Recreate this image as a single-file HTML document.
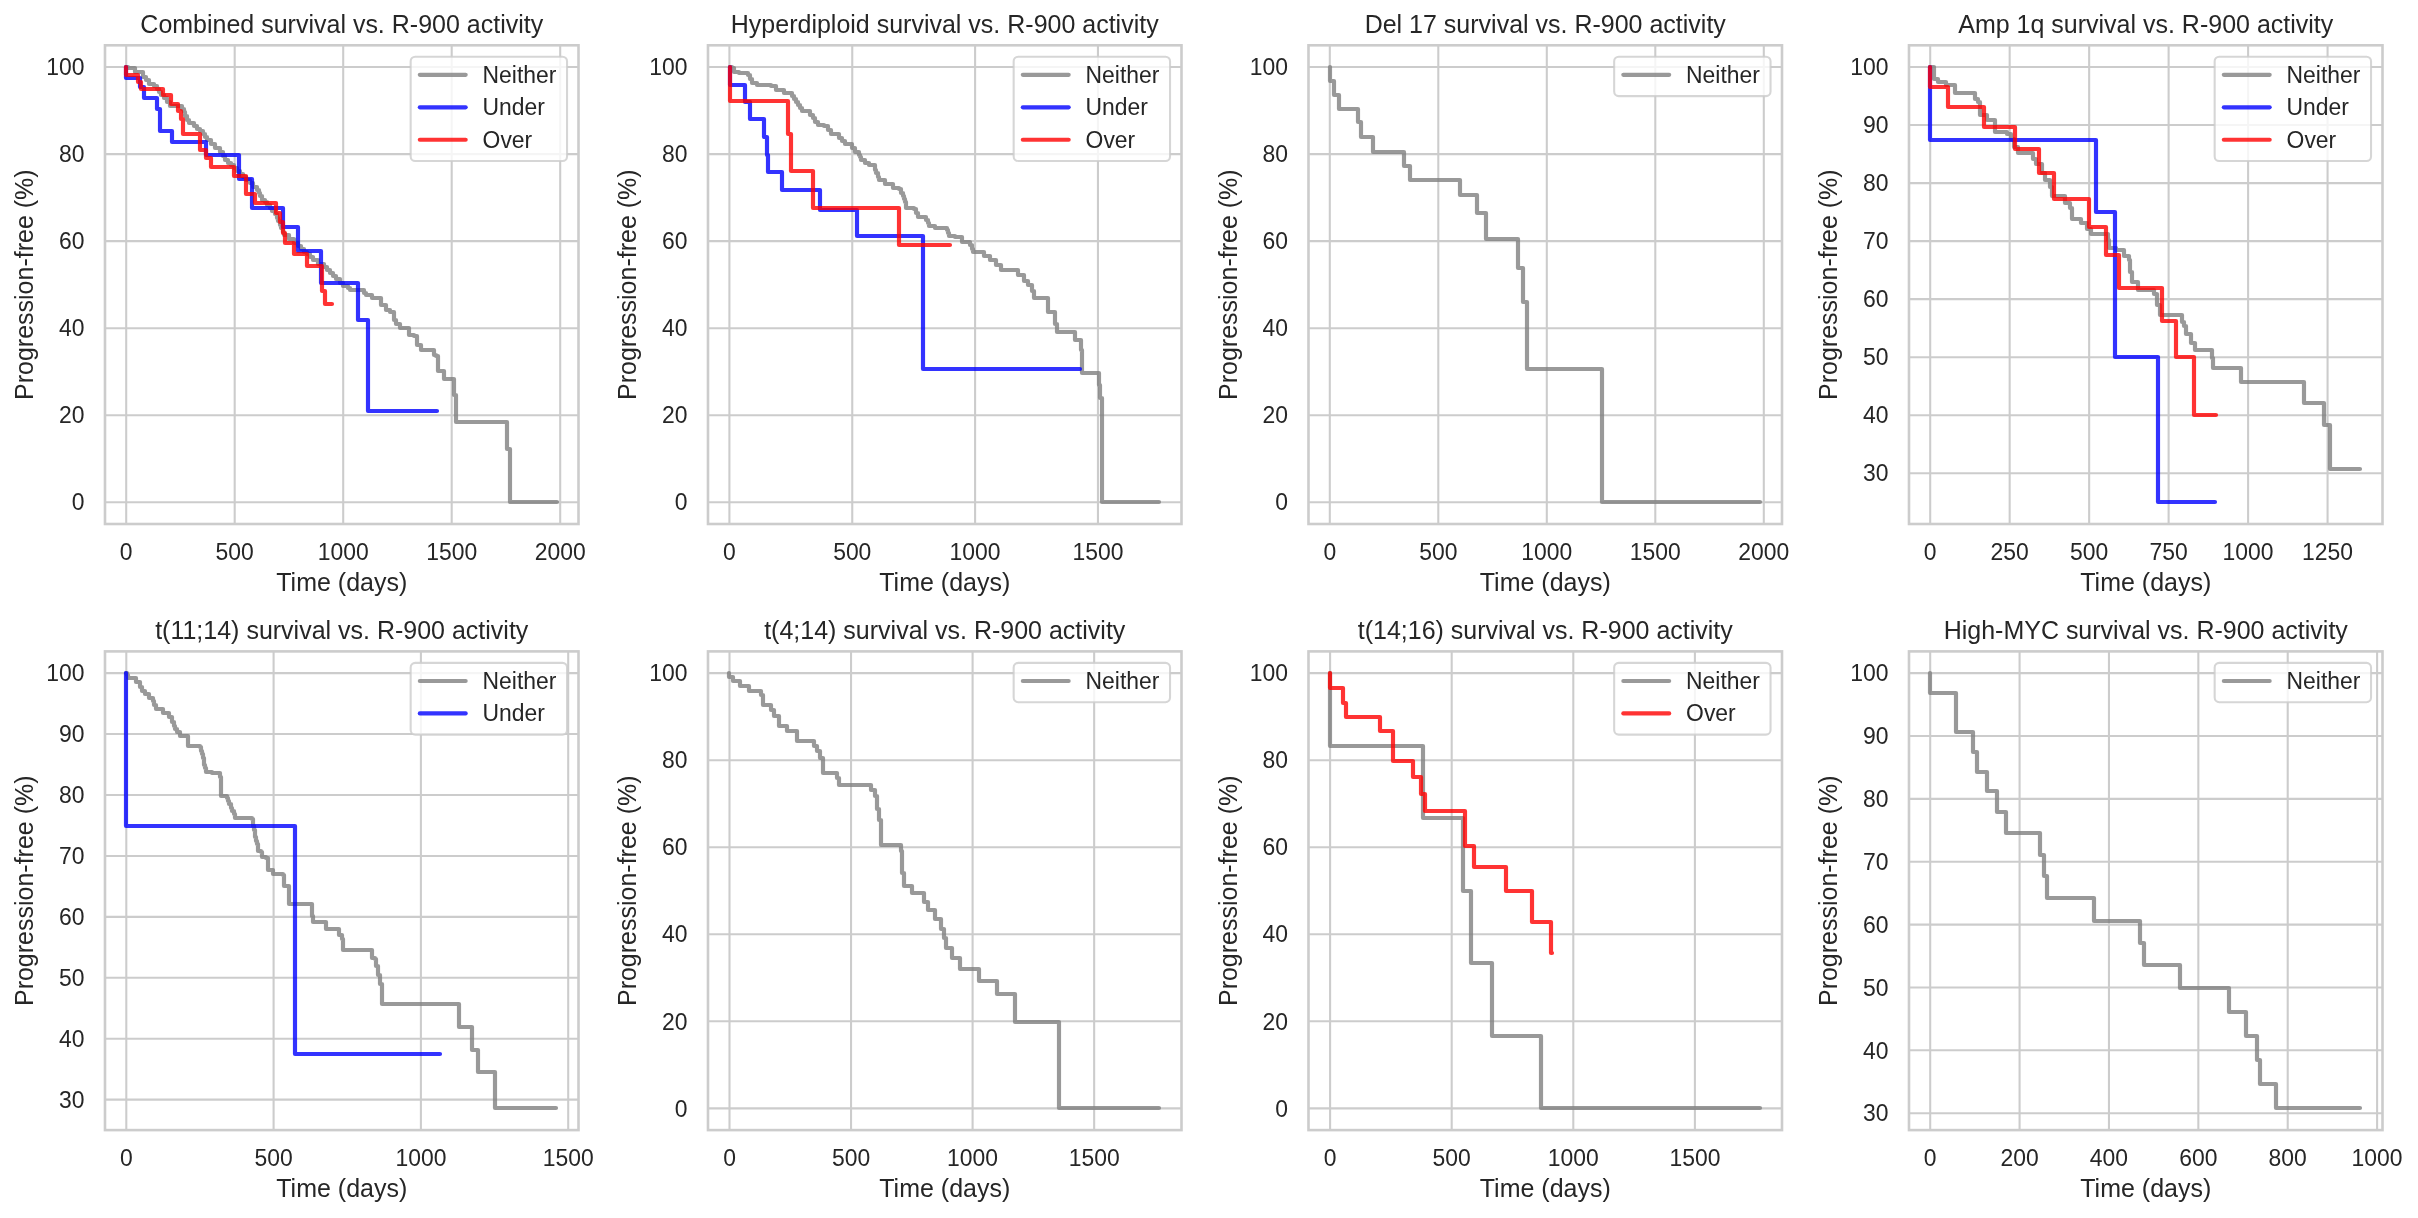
<!DOCTYPE html><html><head><meta charset="utf-8"><title>Survival vs R-900 activity</title><style>html,body{margin:0;padding:0;background:#fff;width:2418px;height:1218px;overflow:hidden}svg{display:block;font-family:"Liberation Sans",sans-serif;will-change:transform}</style></head><body><svg width="2418" height="1218" viewBox="0 0 2418 1218" font-family="Liberation Sans, sans-serif" fill="#262626"><defs><clipPath id="c0"><rect x="105" y="45.3" width="473.5" height="478.7"/></clipPath><clipPath id="c1"><rect x="708" y="45.3" width="473.5" height="478.7"/></clipPath><clipPath id="c2"><rect x="1308.5" y="45.3" width="473.5" height="478.7"/></clipPath><clipPath id="c3"><rect x="1909" y="45.3" width="473.5" height="478.7"/></clipPath><clipPath id="c4"><rect x="105" y="651.4" width="473.5" height="478.7"/></clipPath><clipPath id="c5"><rect x="708" y="651.4" width="473.5" height="478.7"/></clipPath><clipPath id="c6"><rect x="1308.5" y="651.4" width="473.5" height="478.7"/></clipPath><clipPath id="c7"><rect x="1909" y="651.4" width="473.5" height="478.7"/></clipPath></defs><rect width="2418" height="1218" fill="#ffffff"/><g stroke="#cccccc" stroke-width="2.083" stroke-linecap="butt"><line x1="126.2" y1="45.3" x2="126.2" y2="524"/><line x1="234.7" y1="45.3" x2="234.7" y2="524"/><line x1="343.2" y1="45.3" x2="343.2" y2="524"/><line x1="451.7" y1="45.3" x2="451.7" y2="524"/><line x1="560.2" y1="45.3" x2="560.2" y2="524"/><line x1="105" y1="502.24" x2="578.5" y2="502.24"/><line x1="105" y1="415.2" x2="578.5" y2="415.2"/><line x1="105" y1="328.17" x2="578.5" y2="328.17"/><line x1="105" y1="241.13" x2="578.5" y2="241.13"/><line x1="105" y1="154.1" x2="578.5" y2="154.1"/><line x1="105" y1="67.06" x2="578.5" y2="67.06"/></g>
<g clip-path="url(#c0)" fill="none" stroke-width="4.167" stroke-linejoin="round" stroke-linecap="round"><path d="M126 67H128V68H135V72H143V77H146V80H149V84H154V86H157V89H159V92H161V95H164V98H167V102H170V106H182V109H184V112H185V116H187V120H189V123H194V126H197V129H200V131H203V134H205V137H207V140H211V144H215V148H220V152H223V156H225V160H228V163H231V165H234V168H237V171H240V174H243V177H246V180H250V183H253V187H257V190H259V193H260V196H262V200H265V202H267V205H270V208H272V211H275V214H277V218H278V221H280V225H281V228H283V232H284V235H289V239H294V243H298V246H301V249H304V252H307V254H310V257H313V260H318V264H324V267H327V270H330V273H333V276H336V279H340V283H343V286H348V288H350V290H362V290H364V293H366V295H372V298H381V305H386V310H390V312H394V320H396V324H400V328H408V328H409V335H414V336H417V345H421V350H431V350H434V355H436V356H438V371H444V372H444V379H452V379H454V395H456V396H456V422H507V449H510V502H557" stroke="#808080" stroke-opacity="0.8"/><path d="M126 67H126V78H140V87H144V98H157V109H160V131H172V142H206V155H239V179H252V208H283V227H298V251H321V283H358V320H368V411H437" stroke="#0000ff" stroke-opacity="0.8"/><path d="M126 67H126V75H138V82H141V89H163V95H171V104H178V111H181V119H183V134H200V150H206V158H211V167H234V176H246V194H255V203H276V213H280V222H283V233H285V243H294V254H307V266H322V291H325V304H332" stroke="#ff0000" stroke-opacity="0.8"/></g>
<rect x="105" y="45.3" width="473.5" height="478.7" fill="none" stroke="#cccccc" stroke-width="2.604" stroke-linejoin="miter"/>
<g font-size="22.917px"><text transform="translate(126.2 559.6) scale(1 1.05)" text-anchor="middle">0</text><text transform="translate(234.7 559.6) scale(1 1.05)" text-anchor="middle">500</text><text transform="translate(343.2 559.6) scale(1 1.05)" text-anchor="middle">1000</text><text transform="translate(451.7 559.6) scale(1 1.05)" text-anchor="middle">1500</text><text transform="translate(560.2 559.6) scale(1 1.05)" text-anchor="middle">2000</text><text transform="translate(84.4 510.44) scale(1 1.05)" text-anchor="end">0</text><text transform="translate(84.4 423.4) scale(1 1.05)" text-anchor="end">20</text><text transform="translate(84.4 336.37) scale(1 1.05)" text-anchor="end">40</text><text transform="translate(84.4 249.33) scale(1 1.05)" text-anchor="end">60</text><text transform="translate(84.4 162.3) scale(1 1.05)" text-anchor="end">80</text><text transform="translate(84.4 75.26) scale(1 1.05)" text-anchor="end">100</text></g>
<text transform="translate(341.75 591) scale(1 1.04)" text-anchor="middle" font-size="25.0px">Time (days)</text>
<text transform="translate(33 284.65) rotate(-90) scale(1 1.04)" x="0" y="0" text-anchor="middle" font-size="25.0px">Progression-free (%)</text>
<text transform="translate(341.75 33) scale(1 1.04)" text-anchor="middle" font-size="25.0px">Combined survival vs. R-900 activity</text>
<rect x="410.67" y="56.76" width="156.37" height="104.25" rx="4.58" ry="4.58" fill="#ffffff" fill-opacity="0.8" stroke="#cccccc" stroke-opacity="0.8" stroke-width="2.083"/>
<line x1="419.84" y1="74.86" x2="465.67" y2="74.86" stroke="#808080" stroke-opacity="0.8" stroke-width="4.167" stroke-linecap="round"/><text transform="translate(482.57 82.66) scale(1 1.04)" font-size="22.917px">Neither</text><line x1="419.84" y1="107.32" x2="465.67" y2="107.32" stroke="#0000ff" stroke-opacity="0.8" stroke-width="4.167" stroke-linecap="round"/><text transform="translate(482.57 115.12) scale(1 1.04)" font-size="22.917px">Under</text><line x1="419.84" y1="139.78" x2="465.67" y2="139.78" stroke="#ff0000" stroke-opacity="0.8" stroke-width="4.167" stroke-linecap="round"/><text transform="translate(482.57 147.58) scale(1 1.04)" font-size="22.917px">Over</text>
<g stroke="#cccccc" stroke-width="2.083" stroke-linecap="butt"><line x1="729.4" y1="45.3" x2="729.4" y2="524"/><line x1="852.25" y1="45.3" x2="852.25" y2="524"/><line x1="975.1" y1="45.3" x2="975.1" y2="524"/><line x1="1097.95" y1="45.3" x2="1097.95" y2="524"/><line x1="708" y1="502.24" x2="1181.5" y2="502.24"/><line x1="708" y1="415.2" x2="1181.5" y2="415.2"/><line x1="708" y1="328.17" x2="1181.5" y2="328.17"/><line x1="708" y1="241.13" x2="1181.5" y2="241.13"/><line x1="708" y1="154.1" x2="1181.5" y2="154.1"/><line x1="708" y1="67.06" x2="1181.5" y2="67.06"/></g>
<g clip-path="url(#c1)" fill="none" stroke-width="4.167" stroke-linejoin="round" stroke-linecap="round"><path d="M730 67H732V68H734V72H739V73H748V75H750V79H752V83H757V85H771V86H776V90H784V93H792V96H794V99H796V102H798V105H800V108H802V111H810V115H813V118H815V122H818V125H824V126H828V130H831V134H839V138H842V141H845V144H852V148H855V152H859V155H860V157H861V160H865V163H869V165H875V170H876V173H878V177H879V180H885V184H893V188H899V189H901V193H903V196H904V199H905V202H906V205H906V208H914V209H916V213H918V217H926V220H928V223H929V226H935V228H947V230H948V233H949V236H955V237H962V242H970V245H972V249H973V252H984V256H990V260H996V265H1001V270H1018V275H1024V281H1028V285H1032V291H1034V298H1048V312H1055V324H1057V332H1075V340H1081V350H1082V373H1099V385H1100V398H1102V502H1159" stroke="#808080" stroke-opacity="0.8"/><path d="M730 67H730V85H745V102H750V119H764V137H767V155H768V172H782V190H820V210H857V236H923V369H1080" stroke="#0000ff" stroke-opacity="0.8"/><path d="M730 67H730V101H788V134H791V171H813V208H899V245H950" stroke="#ff0000" stroke-opacity="0.8"/></g>
<rect x="708" y="45.3" width="473.5" height="478.7" fill="none" stroke="#cccccc" stroke-width="2.604" stroke-linejoin="miter"/>
<g font-size="22.917px"><text transform="translate(729.4 559.6) scale(1 1.05)" text-anchor="middle">0</text><text transform="translate(852.25 559.6) scale(1 1.05)" text-anchor="middle">500</text><text transform="translate(975.1 559.6) scale(1 1.05)" text-anchor="middle">1000</text><text transform="translate(1097.95 559.6) scale(1 1.05)" text-anchor="middle">1500</text><text transform="translate(687.4 510.44) scale(1 1.05)" text-anchor="end">0</text><text transform="translate(687.4 423.4) scale(1 1.05)" text-anchor="end">20</text><text transform="translate(687.4 336.37) scale(1 1.05)" text-anchor="end">40</text><text transform="translate(687.4 249.33) scale(1 1.05)" text-anchor="end">60</text><text transform="translate(687.4 162.3) scale(1 1.05)" text-anchor="end">80</text><text transform="translate(687.4 75.26) scale(1 1.05)" text-anchor="end">100</text></g>
<text transform="translate(944.75 591) scale(1 1.04)" text-anchor="middle" font-size="25.0px">Time (days)</text>
<text transform="translate(636 284.65) rotate(-90) scale(1 1.04)" x="0" y="0" text-anchor="middle" font-size="25.0px">Progression-free (%)</text>
<text transform="translate(944.75 33) scale(1 1.04)" text-anchor="middle" font-size="25.0px">Hyperdiploid survival vs. R-900 activity</text>
<rect x="1013.67" y="56.76" width="156.37" height="104.25" rx="4.58" ry="4.58" fill="#ffffff" fill-opacity="0.8" stroke="#cccccc" stroke-opacity="0.8" stroke-width="2.083"/>
<line x1="1022.84" y1="74.86" x2="1068.67" y2="74.86" stroke="#808080" stroke-opacity="0.8" stroke-width="4.167" stroke-linecap="round"/><text transform="translate(1085.57 82.66) scale(1 1.04)" font-size="22.917px">Neither</text><line x1="1022.84" y1="107.32" x2="1068.67" y2="107.32" stroke="#0000ff" stroke-opacity="0.8" stroke-width="4.167" stroke-linecap="round"/><text transform="translate(1085.57 115.12) scale(1 1.04)" font-size="22.917px">Under</text><line x1="1022.84" y1="139.78" x2="1068.67" y2="139.78" stroke="#ff0000" stroke-opacity="0.8" stroke-width="4.167" stroke-linecap="round"/><text transform="translate(1085.57 147.58) scale(1 1.04)" font-size="22.917px">Over</text>
<g stroke="#cccccc" stroke-width="2.083" stroke-linecap="butt"><line x1="1329.8" y1="45.3" x2="1329.8" y2="524"/><line x1="1438.3" y1="45.3" x2="1438.3" y2="524"/><line x1="1546.8" y1="45.3" x2="1546.8" y2="524"/><line x1="1655.3" y1="45.3" x2="1655.3" y2="524"/><line x1="1763.8" y1="45.3" x2="1763.8" y2="524"/><line x1="1308.5" y1="502.24" x2="1782" y2="502.24"/><line x1="1308.5" y1="415.2" x2="1782" y2="415.2"/><line x1="1308.5" y1="328.17" x2="1782" y2="328.17"/><line x1="1308.5" y1="241.13" x2="1782" y2="241.13"/><line x1="1308.5" y1="154.1" x2="1782" y2="154.1"/><line x1="1308.5" y1="67.06" x2="1782" y2="67.06"/></g>
<g clip-path="url(#c2)" fill="none" stroke-width="4.167" stroke-linejoin="round" stroke-linecap="round"><path d="M1330 67H1330V81H1334V95H1339V109H1358V122H1361V137H1373V152H1404V166H1410V180H1460V195H1477V213H1486V239H1518V268H1523V302H1527V369H1602V502H1760" stroke="#808080" stroke-opacity="0.8"/></g>
<rect x="1308.5" y="45.3" width="473.5" height="478.7" fill="none" stroke="#cccccc" stroke-width="2.604" stroke-linejoin="miter"/>
<g font-size="22.917px"><text transform="translate(1329.8 559.6) scale(1 1.05)" text-anchor="middle">0</text><text transform="translate(1438.3 559.6) scale(1 1.05)" text-anchor="middle">500</text><text transform="translate(1546.8 559.6) scale(1 1.05)" text-anchor="middle">1000</text><text transform="translate(1655.3 559.6) scale(1 1.05)" text-anchor="middle">1500</text><text transform="translate(1763.8 559.6) scale(1 1.05)" text-anchor="middle">2000</text><text transform="translate(1287.9 510.44) scale(1 1.05)" text-anchor="end">0</text><text transform="translate(1287.9 423.4) scale(1 1.05)" text-anchor="end">20</text><text transform="translate(1287.9 336.37) scale(1 1.05)" text-anchor="end">40</text><text transform="translate(1287.9 249.33) scale(1 1.05)" text-anchor="end">60</text><text transform="translate(1287.9 162.3) scale(1 1.05)" text-anchor="end">80</text><text transform="translate(1287.9 75.26) scale(1 1.05)" text-anchor="end">100</text></g>
<text transform="translate(1545.25 591) scale(1 1.04)" text-anchor="middle" font-size="25.0px">Time (days)</text>
<text transform="translate(1236.5 284.65) rotate(-90) scale(1 1.04)" x="0" y="0" text-anchor="middle" font-size="25.0px">Progression-free (%)</text>
<text transform="translate(1545.25 33) scale(1 1.04)" text-anchor="middle" font-size="25.0px">Del 17 survival vs. R-900 activity</text>
<rect x="1614.17" y="56.76" width="156.37" height="39.33" rx="4.58" ry="4.58" fill="#ffffff" fill-opacity="0.8" stroke="#cccccc" stroke-opacity="0.8" stroke-width="2.083"/>
<line x1="1623.34" y1="74.86" x2="1669.17" y2="74.86" stroke="#808080" stroke-opacity="0.8" stroke-width="4.167" stroke-linecap="round"/><text transform="translate(1686.07 82.66) scale(1 1.04)" font-size="22.917px">Neither</text>
<g stroke="#cccccc" stroke-width="2.083" stroke-linecap="butt"><line x1="1930.2" y1="45.3" x2="1930.2" y2="524"/><line x1="2009.67" y1="45.3" x2="2009.67" y2="524"/><line x1="2089.15" y1="45.3" x2="2089.15" y2="524"/><line x1="2168.62" y1="45.3" x2="2168.62" y2="524"/><line x1="2248.1" y1="45.3" x2="2248.1" y2="524"/><line x1="2327.57" y1="45.3" x2="2327.57" y2="524"/><line x1="1909" y1="473.23" x2="2382.5" y2="473.23"/><line x1="1909" y1="415.2" x2="2382.5" y2="415.2"/><line x1="1909" y1="357.18" x2="2382.5" y2="357.18"/><line x1="1909" y1="299.16" x2="2382.5" y2="299.16"/><line x1="1909" y1="241.13" x2="2382.5" y2="241.13"/><line x1="1909" y1="183.11" x2="2382.5" y2="183.11"/><line x1="1909" y1="125.08" x2="2382.5" y2="125.08"/><line x1="1909" y1="67.06" x2="2382.5" y2="67.06"/></g>
<g clip-path="url(#c3)" fill="none" stroke-width="4.167" stroke-linejoin="round" stroke-linecap="round"><path d="M1930 67H1934V79H1938V82H1946V85H1955V93H1975V99H1978V102H1980V115H1987V120H1995V132H2007V134H2011V139H2014V147H2018V153H2033V159H2036V164H2042V173H2045V180H2050V187H2052V196H2065V203H2070V208H2072V219H2081V223H2087V229H2091V234H2108V240H2109V248H2116V250H2124V256H2129V260H2130V272H2132V282H2138V290H2154V294H2157V305H2160V315H2182V322H2184V326H2186V334H2191V343H2195V350H2212V358H2213V368H2241V382H2304V403H2324V425H2330V469H2360" stroke="#808080" stroke-opacity="0.8"/><path d="M1930 67H1930V140H2096V212H2115V357H2158V502H2215" stroke="#0000ff" stroke-opacity="0.8"/><path d="M1930 67H1930V87H1948V107H1984V127H2015V149H2039V173H2054V199H2089V227H2106V255H2119V288H2162V321H2176V357H2194V415H2216" stroke="#ff0000" stroke-opacity="0.8"/></g>
<rect x="1909" y="45.3" width="473.5" height="478.7" fill="none" stroke="#cccccc" stroke-width="2.604" stroke-linejoin="miter"/>
<g font-size="22.917px"><text transform="translate(1930.2 559.6) scale(1 1.05)" text-anchor="middle">0</text><text transform="translate(2009.67 559.6) scale(1 1.05)" text-anchor="middle">250</text><text transform="translate(2089.15 559.6) scale(1 1.05)" text-anchor="middle">500</text><text transform="translate(2168.62 559.6) scale(1 1.05)" text-anchor="middle">750</text><text transform="translate(2248.1 559.6) scale(1 1.05)" text-anchor="middle">1000</text><text transform="translate(2327.57 559.6) scale(1 1.05)" text-anchor="middle">1250</text><text transform="translate(1888.4 481.43) scale(1 1.05)" text-anchor="end">30</text><text transform="translate(1888.4 423.4) scale(1 1.05)" text-anchor="end">40</text><text transform="translate(1888.4 365.38) scale(1 1.05)" text-anchor="end">50</text><text transform="translate(1888.4 307.36) scale(1 1.05)" text-anchor="end">60</text><text transform="translate(1888.4 249.33) scale(1 1.05)" text-anchor="end">70</text><text transform="translate(1888.4 191.31) scale(1 1.05)" text-anchor="end">80</text><text transform="translate(1888.4 133.28) scale(1 1.05)" text-anchor="end">90</text><text transform="translate(1888.4 75.26) scale(1 1.05)" text-anchor="end">100</text></g>
<text transform="translate(2145.75 591) scale(1 1.04)" text-anchor="middle" font-size="25.0px">Time (days)</text>
<text transform="translate(1837 284.65) rotate(-90) scale(1 1.04)" x="0" y="0" text-anchor="middle" font-size="25.0px">Progression-free (%)</text>
<text transform="translate(2145.75 33) scale(1 1.04)" text-anchor="middle" font-size="25.0px">Amp 1q survival vs. R-900 activity</text>
<rect x="2214.67" y="56.76" width="156.37" height="104.25" rx="4.58" ry="4.58" fill="#ffffff" fill-opacity="0.8" stroke="#cccccc" stroke-opacity="0.8" stroke-width="2.083"/>
<line x1="2223.84" y1="74.86" x2="2269.67" y2="74.86" stroke="#808080" stroke-opacity="0.8" stroke-width="4.167" stroke-linecap="round"/><text transform="translate(2286.57 82.66) scale(1 1.04)" font-size="22.917px">Neither</text><line x1="2223.84" y1="107.32" x2="2269.67" y2="107.32" stroke="#0000ff" stroke-opacity="0.8" stroke-width="4.167" stroke-linecap="round"/><text transform="translate(2286.57 115.12) scale(1 1.04)" font-size="22.917px">Under</text><line x1="2223.84" y1="139.78" x2="2269.67" y2="139.78" stroke="#ff0000" stroke-opacity="0.8" stroke-width="4.167" stroke-linecap="round"/><text transform="translate(2286.57 147.58) scale(1 1.04)" font-size="22.917px">Over</text>
<g stroke="#cccccc" stroke-width="2.083" stroke-linecap="butt"><line x1="126.3" y1="651.4" x2="126.3" y2="1130.1"/><line x1="273.6" y1="651.4" x2="273.6" y2="1130.1"/><line x1="420.9" y1="651.4" x2="420.9" y2="1130.1"/><line x1="568.2" y1="651.4" x2="568.2" y2="1130.1"/><line x1="105" y1="1099.63" x2="578.5" y2="1099.63"/><line x1="105" y1="1038.7" x2="578.5" y2="1038.7"/><line x1="105" y1="977.78" x2="578.5" y2="977.78"/><line x1="105" y1="916.86" x2="578.5" y2="916.86"/><line x1="105" y1="855.93" x2="578.5" y2="855.93"/><line x1="105" y1="795.01" x2="578.5" y2="795.01"/><line x1="105" y1="734.08" x2="578.5" y2="734.08"/><line x1="105" y1="673.16" x2="578.5" y2="673.16"/></g>
<g clip-path="url(#c4)" fill="none" stroke-width="4.167" stroke-linejoin="round" stroke-linecap="round"><path d="M126 673H127V675H128V678H136V682H140V687H142V691H145V694H149V698H153V701H154V705H156V709H163V713H169V717H172V722H174V726H175V729H177V732H180V736H187V736H188V746H200V747H201V751H202V754H203V758H204V761H204V765H205V768H206V772H212V773H220V777H221V796H227V798H228V801H229V804H231V808H232V811H234V814H235V818H252V819H253V823H253V826H254V830H255V834H255V837H256V841H257V844H258V848H258V851H261V852H262V857H266V858H268V870H273V874H283V875H284V886H289V887H289V904H311V904H312V916H313V922H326V923H326V929H339V929H339V935H342V939H343V950H371V950H372V958H375V959H376V966H378V975H380V984H382V1004H459V1027H472V1050H478V1072H495V1108H556" stroke="#808080" stroke-opacity="0.8"/><path d="M126 673H126V826H295V1054H440" stroke="#0000ff" stroke-opacity="0.8"/></g>
<rect x="105" y="651.4" width="473.5" height="478.7" fill="none" stroke="#cccccc" stroke-width="2.604" stroke-linejoin="miter"/>
<g font-size="22.917px"><text transform="translate(126.3 1165.7) scale(1 1.05)" text-anchor="middle">0</text><text transform="translate(273.6 1165.7) scale(1 1.05)" text-anchor="middle">500</text><text transform="translate(420.9 1165.7) scale(1 1.05)" text-anchor="middle">1000</text><text transform="translate(568.2 1165.7) scale(1 1.05)" text-anchor="middle">1500</text><text transform="translate(84.4 1107.83) scale(1 1.05)" text-anchor="end">30</text><text transform="translate(84.4 1046.9) scale(1 1.05)" text-anchor="end">40</text><text transform="translate(84.4 985.98) scale(1 1.05)" text-anchor="end">50</text><text transform="translate(84.4 925.06) scale(1 1.05)" text-anchor="end">60</text><text transform="translate(84.4 864.13) scale(1 1.05)" text-anchor="end">70</text><text transform="translate(84.4 803.21) scale(1 1.05)" text-anchor="end">80</text><text transform="translate(84.4 742.28) scale(1 1.05)" text-anchor="end">90</text><text transform="translate(84.4 681.36) scale(1 1.05)" text-anchor="end">100</text></g>
<text transform="translate(341.75 1197.1) scale(1 1.04)" text-anchor="middle" font-size="25.0px">Time (days)</text>
<text transform="translate(33 890.75) rotate(-90) scale(1 1.04)" x="0" y="0" text-anchor="middle" font-size="25.0px">Progression-free (%)</text>
<text transform="translate(341.75 639.1) scale(1 1.04)" text-anchor="middle" font-size="25.0px">t(11;14) survival vs. R-900 activity</text>
<rect x="410.67" y="662.86" width="156.37" height="71.79" rx="4.58" ry="4.58" fill="#ffffff" fill-opacity="0.8" stroke="#cccccc" stroke-opacity="0.8" stroke-width="2.083"/>
<line x1="419.84" y1="680.96" x2="465.67" y2="680.96" stroke="#808080" stroke-opacity="0.8" stroke-width="4.167" stroke-linecap="round"/><text transform="translate(482.57 688.76) scale(1 1.04)" font-size="22.917px">Neither</text><line x1="419.84" y1="713.42" x2="465.67" y2="713.42" stroke="#0000ff" stroke-opacity="0.8" stroke-width="4.167" stroke-linecap="round"/><text transform="translate(482.57 721.22) scale(1 1.04)" font-size="22.917px">Under</text>
<g stroke="#cccccc" stroke-width="2.083" stroke-linecap="butt"><line x1="729.5" y1="651.4" x2="729.5" y2="1130.1"/><line x1="851.05" y1="651.4" x2="851.05" y2="1130.1"/><line x1="972.6" y1="651.4" x2="972.6" y2="1130.1"/><line x1="1094.15" y1="651.4" x2="1094.15" y2="1130.1"/><line x1="708" y1="1108.34" x2="1181.5" y2="1108.34"/><line x1="708" y1="1021.3" x2="1181.5" y2="1021.3"/><line x1="708" y1="934.27" x2="1181.5" y2="934.27"/><line x1="708" y1="847.23" x2="1181.5" y2="847.23"/><line x1="708" y1="760.2" x2="1181.5" y2="760.2"/><line x1="708" y1="673.16" x2="1181.5" y2="673.16"/></g>
<g clip-path="url(#c5)" fill="none" stroke-width="4.167" stroke-linejoin="round" stroke-linecap="round"><path d="M729 673H729V677H733V681H740V686H749V691H761V695H763V705H771V710H774V716H779V726H787V731H797V741H814V746H817V751H820V758H823V773H837V778H839V785H871V790H875V796H877V809H879V820H881V845H901V851H902V873H904V886H912V893H924V902H928V910H935V919H941V929H944V938H946V948H952V958H960V969H979V981H997V994H1015V1022H1059V1108H1159" stroke="#808080" stroke-opacity="0.8"/></g>
<rect x="708" y="651.4" width="473.5" height="478.7" fill="none" stroke="#cccccc" stroke-width="2.604" stroke-linejoin="miter"/>
<g font-size="22.917px"><text transform="translate(729.5 1165.7) scale(1 1.05)" text-anchor="middle">0</text><text transform="translate(851.05 1165.7) scale(1 1.05)" text-anchor="middle">500</text><text transform="translate(972.6 1165.7) scale(1 1.05)" text-anchor="middle">1000</text><text transform="translate(1094.15 1165.7) scale(1 1.05)" text-anchor="middle">1500</text><text transform="translate(687.4 1116.54) scale(1 1.05)" text-anchor="end">0</text><text transform="translate(687.4 1029.5) scale(1 1.05)" text-anchor="end">20</text><text transform="translate(687.4 942.47) scale(1 1.05)" text-anchor="end">40</text><text transform="translate(687.4 855.43) scale(1 1.05)" text-anchor="end">60</text><text transform="translate(687.4 768.4) scale(1 1.05)" text-anchor="end">80</text><text transform="translate(687.4 681.36) scale(1 1.05)" text-anchor="end">100</text></g>
<text transform="translate(944.75 1197.1) scale(1 1.04)" text-anchor="middle" font-size="25.0px">Time (days)</text>
<text transform="translate(636 890.75) rotate(-90) scale(1 1.04)" x="0" y="0" text-anchor="middle" font-size="25.0px">Progression-free (%)</text>
<text transform="translate(944.75 639.1) scale(1 1.04)" text-anchor="middle" font-size="25.0px">t(4;14) survival vs. R-900 activity</text>
<rect x="1013.67" y="662.86" width="156.37" height="39.33" rx="4.58" ry="4.58" fill="#ffffff" fill-opacity="0.8" stroke="#cccccc" stroke-opacity="0.8" stroke-width="2.083"/>
<line x1="1022.84" y1="680.96" x2="1068.67" y2="680.96" stroke="#808080" stroke-opacity="0.8" stroke-width="4.167" stroke-linecap="round"/><text transform="translate(1085.57 688.76) scale(1 1.04)" font-size="22.917px">Neither</text>
<g stroke="#cccccc" stroke-width="2.083" stroke-linecap="butt"><line x1="1330.1" y1="651.4" x2="1330.1" y2="1130.1"/><line x1="1451.7" y1="651.4" x2="1451.7" y2="1130.1"/><line x1="1573.3" y1="651.4" x2="1573.3" y2="1130.1"/><line x1="1694.9" y1="651.4" x2="1694.9" y2="1130.1"/><line x1="1308.5" y1="1108.34" x2="1782" y2="1108.34"/><line x1="1308.5" y1="1021.3" x2="1782" y2="1021.3"/><line x1="1308.5" y1="934.27" x2="1782" y2="934.27"/><line x1="1308.5" y1="847.23" x2="1782" y2="847.23"/><line x1="1308.5" y1="760.2" x2="1782" y2="760.2"/><line x1="1308.5" y1="673.16" x2="1782" y2="673.16"/></g>
<g clip-path="url(#c6)" fill="none" stroke-width="4.167" stroke-linejoin="round" stroke-linecap="round"><path d="M1330 673H1330V746H1423V818H1463V891H1471V963H1492V1036H1541V1108H1760" stroke="#808080" stroke-opacity="0.8"/><path d="M1330 673H1330V688H1343V703H1346V717H1380V731H1393V761H1413V777H1421V794H1425V811H1465V846H1474V867H1506V891H1532V922H1551V953H1552" stroke="#ff0000" stroke-opacity="0.8"/></g>
<rect x="1308.5" y="651.4" width="473.5" height="478.7" fill="none" stroke="#cccccc" stroke-width="2.604" stroke-linejoin="miter"/>
<g font-size="22.917px"><text transform="translate(1330.1 1165.7) scale(1 1.05)" text-anchor="middle">0</text><text transform="translate(1451.7 1165.7) scale(1 1.05)" text-anchor="middle">500</text><text transform="translate(1573.3 1165.7) scale(1 1.05)" text-anchor="middle">1000</text><text transform="translate(1694.9 1165.7) scale(1 1.05)" text-anchor="middle">1500</text><text transform="translate(1287.9 1116.54) scale(1 1.05)" text-anchor="end">0</text><text transform="translate(1287.9 1029.5) scale(1 1.05)" text-anchor="end">20</text><text transform="translate(1287.9 942.47) scale(1 1.05)" text-anchor="end">40</text><text transform="translate(1287.9 855.43) scale(1 1.05)" text-anchor="end">60</text><text transform="translate(1287.9 768.4) scale(1 1.05)" text-anchor="end">80</text><text transform="translate(1287.9 681.36) scale(1 1.05)" text-anchor="end">100</text></g>
<text transform="translate(1545.25 1197.1) scale(1 1.04)" text-anchor="middle" font-size="25.0px">Time (days)</text>
<text transform="translate(1236.5 890.75) rotate(-90) scale(1 1.04)" x="0" y="0" text-anchor="middle" font-size="25.0px">Progression-free (%)</text>
<text transform="translate(1545.25 639.1) scale(1 1.04)" text-anchor="middle" font-size="25.0px">t(14;16) survival vs. R-900 activity</text>
<rect x="1614.17" y="662.86" width="156.37" height="71.79" rx="4.58" ry="4.58" fill="#ffffff" fill-opacity="0.8" stroke="#cccccc" stroke-opacity="0.8" stroke-width="2.083"/>
<line x1="1623.34" y1="680.96" x2="1669.17" y2="680.96" stroke="#808080" stroke-opacity="0.8" stroke-width="4.167" stroke-linecap="round"/><text transform="translate(1686.07 688.76) scale(1 1.04)" font-size="22.917px">Neither</text><line x1="1623.34" y1="713.42" x2="1669.17" y2="713.42" stroke="#ff0000" stroke-opacity="0.8" stroke-width="4.167" stroke-linecap="round"/><text transform="translate(1686.07 721.22) scale(1 1.04)" font-size="22.917px">Over</text>
<g stroke="#cccccc" stroke-width="2.083" stroke-linecap="butt"><line x1="1930.2" y1="651.4" x2="1930.2" y2="1130.1"/><line x1="2019.58" y1="651.4" x2="2019.58" y2="1130.1"/><line x1="2108.96" y1="651.4" x2="2108.96" y2="1130.1"/><line x1="2198.34" y1="651.4" x2="2198.34" y2="1130.1"/><line x1="2287.72" y1="651.4" x2="2287.72" y2="1130.1"/><line x1="2377.1" y1="651.4" x2="2377.1" y2="1130.1"/><line x1="1909" y1="1113.18" x2="2382.5" y2="1113.18"/><line x1="1909" y1="1050.32" x2="2382.5" y2="1050.32"/><line x1="1909" y1="987.46" x2="2382.5" y2="987.46"/><line x1="1909" y1="924.6" x2="2382.5" y2="924.6"/><line x1="1909" y1="861.74" x2="2382.5" y2="861.74"/><line x1="1909" y1="798.88" x2="2382.5" y2="798.88"/><line x1="1909" y1="736.02" x2="2382.5" y2="736.02"/><line x1="1909" y1="673.16" x2="2382.5" y2="673.16"/></g>
<g clip-path="url(#c7)" fill="none" stroke-width="4.167" stroke-linejoin="round" stroke-linecap="round"><path d="M1930 673H1930V693H1956V732H1973V752H1977V772H1987V791H1997V812H2006V833H2040V855H2044V876H2047V898H2094V921H2140V943H2144V965H2180V988H2229V1012H2246V1036H2257V1060H2260V1084H2276V1108H2360" stroke="#808080" stroke-opacity="0.8"/></g>
<rect x="1909" y="651.4" width="473.5" height="478.7" fill="none" stroke="#cccccc" stroke-width="2.604" stroke-linejoin="miter"/>
<g font-size="22.917px"><text transform="translate(1930.2 1165.7) scale(1 1.05)" text-anchor="middle">0</text><text transform="translate(2019.58 1165.7) scale(1 1.05)" text-anchor="middle">200</text><text transform="translate(2108.96 1165.7) scale(1 1.05)" text-anchor="middle">400</text><text transform="translate(2198.34 1165.7) scale(1 1.05)" text-anchor="middle">600</text><text transform="translate(2287.72 1165.7) scale(1 1.05)" text-anchor="middle">800</text><text transform="translate(2377.1 1165.7) scale(1 1.05)" text-anchor="middle">1000</text><text transform="translate(1888.4 1121.38) scale(1 1.05)" text-anchor="end">30</text><text transform="translate(1888.4 1058.52) scale(1 1.05)" text-anchor="end">40</text><text transform="translate(1888.4 995.66) scale(1 1.05)" text-anchor="end">50</text><text transform="translate(1888.4 932.8) scale(1 1.05)" text-anchor="end">60</text><text transform="translate(1888.4 869.94) scale(1 1.05)" text-anchor="end">70</text><text transform="translate(1888.4 807.08) scale(1 1.05)" text-anchor="end">80</text><text transform="translate(1888.4 744.22) scale(1 1.05)" text-anchor="end">90</text><text transform="translate(1888.4 681.36) scale(1 1.05)" text-anchor="end">100</text></g>
<text transform="translate(2145.75 1197.1) scale(1 1.04)" text-anchor="middle" font-size="25.0px">Time (days)</text>
<text transform="translate(1837 890.75) rotate(-90) scale(1 1.04)" x="0" y="0" text-anchor="middle" font-size="25.0px">Progression-free (%)</text>
<text transform="translate(2145.75 639.1) scale(1 1.04)" text-anchor="middle" font-size="25.0px">High-MYC survival vs. R-900 activity</text>
<rect x="2214.67" y="662.86" width="156.37" height="39.33" rx="4.58" ry="4.58" fill="#ffffff" fill-opacity="0.8" stroke="#cccccc" stroke-opacity="0.8" stroke-width="2.083"/>
<line x1="2223.84" y1="680.96" x2="2269.67" y2="680.96" stroke="#808080" stroke-opacity="0.8" stroke-width="4.167" stroke-linecap="round"/><text transform="translate(2286.57 688.76) scale(1 1.04)" font-size="22.917px">Neither</text></svg></body></html>
